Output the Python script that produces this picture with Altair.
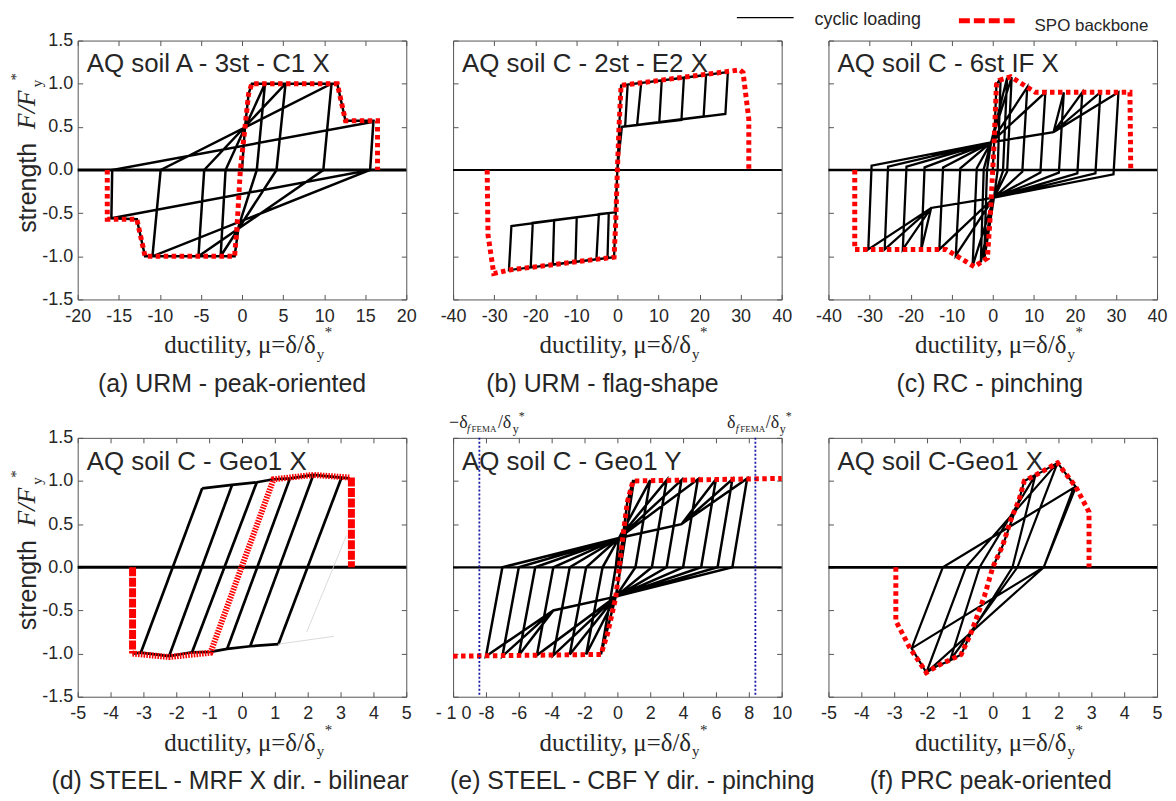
import altair as alt
import pandas as pd

W, H = 330, 260
SANS = "Liberation Sans"
SERIF = "Liberation Serif"
INK = "#262626"
FRAME = "#555555"
RED = "#ff0000"
NAVY = "#1a1aa8"

Y_TICKS = [-1.5, -1.0, -0.5, 0.0, 0.5, 1.0, 1.5]

# ---------------- (a) URM - peak-oriented ----------------
a_x_ticks = [-20, -15, -10, -5, 0, 5, 10, 15, 20]
a_spo_x = [-16.4, -16.4, -12.8, -11.8, -0.9, -0.6, -0.2, 0.35, 0.8, 1.2, 11.6, 12.6, 16.5, 16.5]
a_spo_y = [0.0, -0.57, -0.57, -1.0, -1.0, -0.65, 0.0, 0.48, 0.88, 1.0, 1.0, 0.57, 0.57, 0.0]
a_cyc_x = [0.0, 0.35, 0.8, 1.2, 2.8, 1.8, -0.4, -0.9, -2.6, -2.0, 2.8, 5.3, 4.2, -2.6, -5.3,
           -4.6, 5.3, 10.9, 9.9, -5.3, -10.9, -9.9, 10.9, 11.6, 12.6, 16.0, 15.6, -10.9, -11.8,
           -12.8, -15.9, -15.8, 16.0, 15.6, -15.9]
a_cyc_y = [0.0, 0.48, 0.88, 1.0, 1.0, 0.0, -0.65, -1.0, -1.0, 0.0, 1.0, 1.0, 0.0, -1.0, -1.0,
           0.0, 1.0, 1.0, 0.0, -1.0, -1.0, 0.0, 1.0, 1.0, 0.57, 0.57, 0.0, -1.0, -1.0,
           -0.57, -0.56, 0.0, 0.56, 0.0, -0.56]

# ---------------- (b) URM - flag-shape ----------------
b_x_ticks = [-40, -30, -20, -10, 0, 10, 20, 30, 40]
b_spo_x = [-31.7, -31.5, -30.1, -26.5, -0.8, -0.4, 0.0, 0.4, 0.9, 29.8, 30.6, 32.0, 32.0]
b_spo_y = [0.0, -0.75, -1.2, -1.16, -1.01, -0.6, 0.0, 0.5, 0.98, 1.16, 1.13, 0.59, 0.0]
b_top_x = [2.5, 5.8, 10.8, 16.2, 21.6, 26.9]
b_top_y = [0.99, 1.01, 1.04, 1.07, 1.10, 1.135]
b_bot_x = [1.9, 4.8, 10.2, 15.6, 21.0, 26.3]
b_bot_y = [0.51, 0.52, 0.55, 0.58, 0.62, 0.65]
b_ntop_x = [-2.1, -4.5, -9.9, -15.4, -20.6, -25.8]
b_ntop_y = [-0.50, -0.51, -0.55, -0.58, -0.61, -0.65]
b_nbot_x = [-2.4, -5.1, -10.2, -15.7, -21.1, -26.4]
b_nbot_y = [-1.02, -1.035, -1.065, -1.095, -1.13, -1.16]
b_knee = [0.9, 0.98]
b_knee_u = [1.1, 0.5]
b_nknee = [-0.8, -1.01]
b_nknee_u = [-0.5, -0.49]

# ---------------- (c) RC - pinching ----------------
c_x_ticks = [-40, -30, -20, -10, 0, 10, 20, 30, 40]
c_spo_x = [-33.6, -33.6, -11.4, -4.5, -1.3, -0.5, 0.3, 0.9, 1.6, 4.4, 10.4, 33.4, 33.6]
c_spo_y = [0.0, -0.92, -0.92, -1.12, -1.02, -0.45, 0.28, 0.99, 1.04, 1.08, 0.9, 0.9, 0.0]
c_start_x = [0.0, 0.3, 0.9, 1.6]
c_start_y = [0.0, 0.28, 0.99, 1.04]
c_pp_x = [1.9, 3.5, 4.6, 8.4, 12.8, 17.3, 21.8, 26.2, 30.6]
c_pp_y = [1.045, 1.07, 1.075, 0.96, 0.9, 0.9, 0.9, 0.9, 0.9]
c_pu_x = [1.2, 2.5, 3.5, 7.2, 11.6, 16.1, 20.6, 25.0, 29.4]
c_pu_y = [0.0, -0.01, -0.02, -0.02, -0.03, -0.03, -0.04, -0.04, -0.05]
c_np_x = [-2.1, -2.9, -4.9, -9.0, -13.0, -17.4, -21.9, -26.3, -30.3]
c_np_y = [-1.045, -1.07, -1.11, -0.99, -0.92, -0.92, -0.92, -0.92, -0.92]
c_nu_x = [-1.4, -2.2, -3.9, -7.9, -12.1, -16.6, -21.0, -25.5, -29.5]
c_nu_y = [0.0, 0.01, 0.02, 0.02, 0.03, 0.03, 0.04, 0.04, 0.05]
c_ppinch = [-0.4, 0.32]
c_npinch = [0.3, -0.32]
c_pkink = [14.8, 0.44]
c_nkink = [-15.0, -0.44]
c_kink_lim = 17.0

# ---------------- (d) STEEL - MRF - bilinear ----------------
d_x_ticks = [-5, -4, -3, -2, -1, 0, 1, 2, 3, 4, 5]
d_spo_x = [-3.33, -2.22, -0.96, 0.96, 2.17, 3.28]
d_spo_y = [-1.0, -1.04, -0.99, 1.02, 1.07, 1.04]
d_edge_x = [[-3.33, -3.33], [3.33, 3.33]]
d_edge_y = [[0.0, -1.0], [1.04, 0.0]]
d_top_x = [-1.21, -0.30, 0.45, 0.96, 1.46, 2.17, 3.03, 3.28]
d_top_y = [0.915, 0.955, 0.985, 1.02, 1.03, 1.07, 1.04, 1.03]
d_bot_x = [-3.33, -3.08, -2.22, -1.52, -0.96, -0.45, 0.25, 1.11]
d_bot_y = [-1.0, -0.99, -1.03, -0.985, -0.98, -0.945, -0.915, -0.89]
d_dg_x0 = [-3.08, -2.22, -1.52, -0.45, 0.25, 1.11]
d_dg_y0 = [-0.99, -1.03, -0.985, -0.945, -0.915, -0.89]
d_dg_x1 = [-1.21, -0.30, 0.45, 1.46, 2.17, 3.03]
d_dg_y1 = [0.915, 0.955, 0.985, 1.03, 1.07, 1.04]
d_faint_x = [[1.11, 2.8], [1.97, 3.18]]
d_faint_y = [[-0.89, -0.8], [-0.75, 0.37]]

# ---------------- (e) STEEL - CBF - pinching ----------------
e_x_ticks = [-10, -8, -6, -4, -2, 0, 2, 4, 6, 8, 10]
e_spo_x = [-10.0, -1.0, -0.6, -0.1, 0.3, 0.6, 0.95, 10.0]
e_spo_y = [-1.03, -1.01, -0.77, -0.35, 0.3, 0.75, 1.0, 1.03]
e_start_x = [0.0, 0.3, 0.6, 0.95]
e_start_y = [0.0, 0.3, 0.75, 1.0]
e_pp_x = [1.0, 2.0, 3.0, 3.9, 4.9, 6.0, 7.0, 7.9]
e_pp_y = [1.0, 1.01, 1.01, 1.01, 1.02, 1.02, 1.02, 1.03]
e_pu_x = [0.2, 1.1, 2.1, 3.0, 4.0, 5.1, 6.1, 7.0]
e_pu_y = [0.0, 0.0, 0.0, 0.0, 0.0, 0.0, 0.0, 0.0]
e_np_x = [-1.0, -1.9, -2.9, -3.9, -4.9, -6.0, -7.0, -8.0]
e_np_y = [-1.01, -1.01, -1.01, -1.02, -1.02, -1.02, -1.03, -1.03]
e_nu_x = [-0.1, -0.9, -1.9, -2.9, -3.9, -5.0, -6.0, -7.0]
e_nu_y = [0.0, 0.0, 0.0, 0.0, 0.0, 0.0, 0.0, 0.0]
e_ppinch = [0.1, 0.34]
e_npinch = [-0.1, -0.34]
e_pkink = [3.9, 0.5]
e_nkink = [-3.9, -0.5]
e_kink_lim = 5.5
e_fema_x = [-8.4, 8.4]

# ---------------- (f) PRC - peak-oriented ----------------
f_x_ticks = [-5, -4, -3, -2, -1, 0, 1, 2, 3, 4, 5]
f_spo_x = [-2.95, -2.95, -2.53, -2.02, -1.67, -0.96, -0.66, -0.25, 0.0, 0.3, 0.55, 0.8, 0.96,
           1.46, 1.97, 2.53, 2.93, 2.93]
f_spo_y = [0.0, -0.62, -0.93, -1.22, -1.14, -1.01, -0.76, -0.33, 0.0, 0.25, 0.55, 0.78, 1.0,
           1.1, 1.21, 0.93, 0.64, 0.0]
f_cyc_x = [0.0, 0.3, 0.8, 0.96, 1.3, 0.6, -0.66, -0.96, -1.3, -0.4, 1.3, 1.46, 1.97, 0.75,
           -1.3, -1.67, -2.02, -0.82, 1.97, 2.53, 1.55, -2.02, -2.47, -1.52, 2.46, 1.55, -2.47]
f_cyc_y = [0.0, 0.25, 0.78, 1.0, 1.07, 0.0, -0.76, -1.01, -1.08, 0.0, 1.07, 1.1, 1.21, 0.0,
           -1.08, -1.14, -1.22, 0.0, 1.21, 0.93, 0.0, -1.22, -0.94, 0.0, 0.92, 0.0, -0.94]

ONE = pd.DataFrame({"k": [0]})


def frame(paths):
    rows = []
    for s, (px, py) in enumerate(paths):
        for i, (x, y) in enumerate(zip(px, py)):
            rows.append({"x": x, "y": y, "i": i, "seg": s})
    return pd.DataFrame(rows)


def text(s, x, y, size, font=SANS, style="normal", align="left", angle=None, color=INK):
    kw = dict(text=s, font=font, fontSize=size, fontStyle=style, align=align,
              baseline="alphabetic", color=color)
    if angle is not None:
        kw["angle"] = angle
    return alt.Chart(ONE).mark_text(**kw).encode(x=alt.value(x), y=alt.value(y))


def flag_path():
    xs, ys = [], []
    for i in range(len(b_top_x)):
        xs += [0.0, b_knee[0], b_top_x[i], b_bot_x[i], b_knee_u[0], 0.0,
               b_nknee[0], b_nbot_x[i], b_ntop_x[i], b_nknee_u[0]]
        ys += [0.0, b_knee[1], b_top_y[i], b_bot_y[i], b_knee_u[1], 0.0,
               b_nknee[1], b_nbot_y[i], b_ntop_y[i], b_nknee_u[1]]
    xs.append(0.0)
    ys.append(0.0)
    return xs, ys


def pinch_path(sx, sy, pp_x, pp_y, pu_x, pu_y, np_x, np_y, nu_x, nu_y, ppin, npin, pk, nk, lim):
    xs, ys = list(sx), list(sy)
    n = len(pp_x)
    for i in range(n):
        xs.append(pp_x[i]); ys.append(pp_y[i])
        xs.append(pu_x[i]); ys.append(pu_y[i])
        xs.append(npin[0]); ys.append(npin[1])
        if np_x[i] < -lim:
            xs.append(nk[0]); ys.append(nk[1])
        xs.append(np_x[i]); ys.append(np_y[i])
        xs.append(nu_x[i]); ys.append(nu_y[i])
        xs.append(ppin[0]); ys.append(ppin[1])
        if pp_x[min(i + 1, n - 1)] > lim:
            xs.append(pk[0]); ys.append(pk[1])
    xs.append(pp_x[-1]); ys.append(pp_y[-1])
    return xs, ys


XEXPR = "datum.value < 0 ? '-' + format(-datum.value, 'd') : format(datum.value, 'd')"
YEXPR = "datum.value < 0 ? '-' + format(-datum.value, '.1f') : format(datum.value, '.1f')"


def panel(xdom, xticks, ylabels, cyc_paths, black_w, zero_w, title, caption, cap_x,
          line_specs, xexpr=XEXPR, extras=None, texts=()):
    xs = alt.Scale(domain=xdom, nice=False, zero=False)
    ys = alt.Scale(domain=[-1.5, 1.5], nice=False, zero=False)
    common = dict(grid=False, domain=False, ticks=True, tickColor=FRAME, tickWidth=1,
                  tickSize=5, offset=-5, title=None)
    xaxis = alt.Axis(orient="bottom", values=xticks, labelExpr=xexpr, labelFont=SANS,
                     labelFontSize=18, labelColor=INK, labelPadding=8, labelOverlap=False,
                     labelFlush=False, **common)
    top_axis = alt.Axis(orient="top", values=xticks, labels=False, **common)
    yaxis = alt.Axis(orient="left", values=Y_TICKS, labels=ylabels, labelExpr=YEXPR,
                     labelFont=SANS, labelFontSize=18, labelColor=INK, labelPadding=5,
                     labelOverlap=False, labelFlush=False, **common)
    right_axis = alt.Axis(orient="right", values=Y_TICKS, labels=False, **common)

    layers = [text(title, 9, 32, 26)]
    layers.append(
        alt.Chart(frame(cyc_paths)).mark_line(color="black", strokeWidth=black_w).encode(
            x=alt.X("x:Q", scale=xs, axis=xaxis),
            y=alt.Y("y:Q", scale=ys, axis=yaxis),
            detail="seg:N", order="i:Q"))
    zdf = pd.DataFrame({"x0": [xdom[0]], "x1": [xdom[1]], "y0": [0.0]})
    layers.append(
        alt.Chart(zdf).mark_rule(color="black", strokeWidth=zero_w).encode(
            x=alt.X("x0:Q", scale=xs, axis=top_axis), x2="x1:Q",
            y=alt.Y("y0:Q", scale=ys, axis=right_axis)))
    for paths, color, width, dash in line_specs:
        kw = dict(color=color, strokeWidth=width)
        if dash:
            kw["strokeDash"] = dash
        layers.append(
            alt.Chart(frame(paths)).mark_line(**kw).encode(
                x=alt.X("x:Q", scale=xs, axis=None),
                y=alt.Y("y:Q", scale=ys, axis=None),
                detail="seg:N", order="i:Q"))
    if extras is not None:
        layers += extras(xs, ys)
    # x title
    layers.append(text("ductility, μ=δ/δ", 239, 314, 25, font=SERIF, align="right"))
    layers.append(text("y", 240, 320, 15, font=SERIF))
    layers.append(text("*", 248, 298, 15, font=SERIF))
    # caption
    layers.append(text(caption, cap_x, 353, 25, align="center"))
    if ylabels:
        layers.append(text("strength", -42, 148, 25, angle=270, align="center"))
        layers.append(text("F/F", -43, 89, 26, font=SERIF, style="italic", angle=270))
        layers.append(text("y", -36, 47, 15, font=SERIF, angle=270))
        layers.append(text("*", -57, 40, 15, font=SERIF, angle=270))
    layers += list(texts)
    return alt.layer(*layers).properties(width=W, height=H).resolve_axis(
        x="independent", y="independent")


RED_DOT = [4.5, 3.5]

pa = panel([-20, 20], a_x_ticks, True, [(a_cyc_x, a_cyc_y)], 2.5, 3.2,
           "AQ soil A - 3st - C1 X", "(a) URM - peak-oriented", 155,
           [([(a_spo_x, a_spo_y)], RED, 5, RED_DOT)])

pb = panel([-40, 40], b_x_ticks, False, [flag_path()], 2.3, 2.2,
           "AQ soil C - 2st - E2 X", "(b) URM - flag-shape", 150,
           [([(b_spo_x, b_spo_y)], RED, 5, RED_DOT)])

legend_c = [
    alt.Chart(ONE).mark_rule(color="black", strokeWidth=1.2).encode(
        x=alt.value(-92), x2=alt.value(-35), y=alt.value(-23)),
    text("cyclic loading", -14, -16, 18),
    alt.Chart(ONE).mark_rule(color=RED, strokeWidth=5, strokeDash=[11, 4]).encode(
        x=alt.value(131), x2=alt.value(188), y=alt.value(-20)),
    text("SPO backbone", 207, -10, 17),
]

pc = panel([-40, 40], c_x_ticks, False,
           [pinch_path(c_start_x, c_start_y, c_pp_x, c_pp_y, c_pu_x, c_pu_y, c_np_x, c_np_y,
                       c_nu_x, c_nu_y, c_ppinch, c_npinch, c_pkink, c_nkink, c_kink_lim)],
           2.3, 2.4, "AQ soil C - 6st IF X", "(c) RC - pinching", 162,
           [([(c_spo_x, c_spo_y)], RED, 5, RED_DOT)], texts=legend_c)

d_paths = [(d_top_x, d_top_y), (d_bot_x, d_bot_y)] + [
    ([d_dg_x0[k], d_dg_x1[k]], [d_dg_y0[k], d_dg_y1[k]]) for k in range(len(d_dg_x0))]
pdd = panel([-5, 5], d_x_ticks, True, d_paths, 2.7, 3.0,
            "AQ soil C - Geo1 X", "(d) STEEL - MRF X dir. - bilinear", 153,
            [(list(zip(d_faint_x, d_faint_y)), "#d0d0d0", 0.8, None),
             ([(d_spo_x, d_spo_y)], RED, 6, [1.6, 1.2]),
             (list(zip(d_edge_x, d_edge_y)), RED, 7, [9, 1.5])])


def fema_rules(xs, ys):
    return [alt.Chart(pd.DataFrame({"x": e_fema_x})).mark_rule(
        color=NAVY, strokeWidth=1.8, strokeDash=[2, 2]).encode(
        x=alt.X("x:Q", scale=xs, axis=None))]


fema_texts = [
    text("−δ", -4, -10, 18, font=SERIF),
    text("f", 14, -6, 11, font=SERIF, style="italic"),
    text("FEMA", 18.5, -6, 9, font=SERIF),
    text("/δ", 45, -10, 18, font=SERIF),
    text("y", 60, -5, 12, font=SERIF),
    text("*", 66, -18, 12, font=SERIF),
    text("δ", 275, -10, 18, font=SERIF),
    text("f", 284, -6, 11, font=SERIF, style="italic"),
    text("FEMA", 288.5, -6, 9, font=SERIF),
    text("/δ", 314, -10, 18, font=SERIF),
    text("y", 328, -5, 12, font=SERIF),
    text("*", 334, -18, 12, font=SERIF),
]

pe = panel([-10, 10], e_x_ticks, False,
           [pinch_path(e_start_x, e_start_y, e_pp_x, e_pp_y, e_pu_x, e_pu_y, e_np_x, e_np_y,
                       e_nu_x, e_nu_y, e_ppinch, e_npinch, e_pkink, e_nkink, e_kink_lim)],
           2.5, 2.2, "AQ soil C - Geo1 Y", "(e) STEEL - CBF Y dir. - pinching", 180,
           [([(e_spo_x, e_spo_y)], RED, 5, RED_DOT)],
           xexpr="datum.value == -10 ? '- 1 0' : (" + XEXPR + ")",
           extras=fema_rules, texts=fema_texts)

pf = panel([-5, 5], f_x_ticks, False, [(f_cyc_x, f_cyc_y)], 2.2, 2.8,
           "AQ soil C-Geo1 X", "(f) PRC peak-oriented", 163,
           [([(f_spo_x, f_spo_y)], RED, 5, RED_DOT)])

chart = alt.concat(
    pa, pb, pc, pdd, pe, pf, columns=3,
    spacing={"row": 139, "column": 47}, bounds="flush"
).properties(
    padding={"left": 0, "top": 0, "right": 0, "bottom": 0}, background="white"
).configure_view(stroke=FRAME, strokeWidth=1).configure_axis(grid=False)

chart.save("out.html", embed_options={"renderer": "svg", "actions": False})
